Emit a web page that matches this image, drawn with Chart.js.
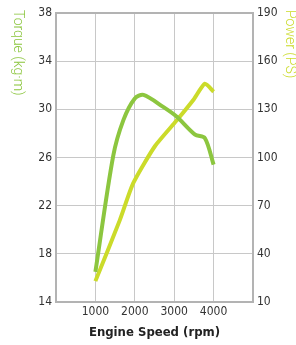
<!DOCTYPE html>
<html>
<head>
<meta charset="utf-8">
<script src="https://cdn.jsdelivr.net/npm/chart.js@4/dist/chart.umd.min.js"></script>
<style>
  html, body { margin: 0; padding: 0; background: #fff; }
  #wrap { width: 296px; height: 345px; position: relative; }
</style>
</head>
<body>
<div id="wrap"><canvas id="chart"></canvas></div>
<script>
// data
const torqueRpm = [1000, 1450, 1710, 2000, 2220, 2720, 3060, 3530, 3780, 4000];
const torqueValues = [16.5, 26.1, 29.1, 30.9, 31.2, 30.2, 29.4, 27.9, 27.6, 25.4];
const powerRpm = [1000, 1620, 1960, 2510, 3060, 3490, 3780, 4000];
const powerValues = [23, 61, 84, 107, 123, 136, 146, 141];
const rpmTicks = [1000, 2000, 3000, 4000];
const torqueTicks = [14, 18, 22, 26, 30, 34, 38];
const powerTicks = [10, 40, 70, 100, 130, 160, 190];

const torqueColor = '#8cc63f';
const powerColor = '#cbdb2a';
const tickFont = { family: '"Liberation Sans Narrow", "DejaVu Sans Condensed", sans-serif', size: 12 };

// frame round the plot area and the three axis titles
const extras = {
    id: 'extras',
    beforeDatasetsDraw(chart) {
        const a = chart.chartArea;
        const ctx = chart.ctx;
        ctx.save();
        ctx.strokeStyle = '#b3b3b3';
        ctx.lineWidth = 2;
        ctx.strokeRect(a.left, a.top, a.right - a.left, a.bottom - a.top);
        ctx.restore();
    },
    afterDraw(chart) {
        const ctx = chart.ctx;
        const a = chart.chartArea;
        ctx.save();
        ctx.font = '300 14px "Roboto", "Liberation Sans Narrow", sans-serif';
        ctx.textBaseline = 'middle';
        ctx.textAlign = 'left';

        ctx.save();
        ctx.translate(17, 10);
        ctx.rotate(Math.PI / 2);
        ctx.fillStyle = torqueColor;
        ctx.fillText('Torque (kg\u00b7m)', 0, 0);
        ctx.restore();

        ctx.save();
        ctx.translate(289, 10);
        ctx.rotate(Math.PI / 2);
        ctx.fillStyle = powerColor;
        ctx.fillText('Power (PS)', 0, 0);
        ctx.restore();

        ctx.font = 'bold 13px "Liberation Sans Narrow", "DejaVu Sans Condensed", sans-serif';
        ctx.fillStyle = '#222';
        ctx.textAlign = 'center';
        ctx.fillText('Engine Speed (rpm)', (a.left + a.right) / 2, 333);
        ctx.restore();
    }
};

new Chart(document.getElementById('chart'), {
    type: 'line',
    data: {
        datasets: [
            {
                label: 'Torque',
                data: torqueRpm.map((x, i) => ({ x: x, y: torqueValues[i] })),
                yAxisID: 'y',
                borderColor: torqueColor,
                borderWidth: 4,
                pointRadius: 0,
                tension: 0.3,
                borderCapStyle: 'butt'
            },
            {
                label: 'Power',
                data: powerRpm.map((x, i) => ({ x: x, y: powerValues[i] })),
                yAxisID: 'y1',
                borderColor: powerColor,
                borderWidth: 4,
                pointRadius: 0,
                tension: 0.2,
                borderCapStyle: 'butt'
            }
        ]
    },
    options: {
        responsive: true,
        maintainAspectRatio: false,
        animation: false,
        layout: { padding: { top: 13, left: 0, right: 0, bottom: 0 } },
        plugins: {
            legend: { display: false },
            tooltip: { enabled: false }
        },
        scales: {
            x: {
                type: 'linear',
                min: 0,
                max: 5000,
                afterFit(scale) { scale.height = 43; },
                afterBuildTicks(scale) {
                    scale.ticks = [0].concat(rpmTicks, [5000]).map(v => ({ value: v }));
                },
                ticks: {
                    color: '#333',
                    font: tickFont,
                    padding: 3,
                    maxRotation: 0,
                    autoSkip: false,
                    callback: v => rpmTicks.includes(v) ? String(v) : ''
                },
                grid: { color: '#c8c8c8', lineWidth: 1, drawTicks: false },
                border: { display: false }
            },
            y: {
                position: 'left',
                min: 14,
                max: 38,
                afterFit(scale) { scale.width = 56; },
                afterBuildTicks(scale) {
                    scale.ticks = torqueTicks.map(v => ({ value: v }));
                },
                ticks: { color: '#333', font: tickFont, padding: 4 },
                grid: { color: '#c8c8c8', lineWidth: 1, drawTicks: false },
                border: { display: false }
            },
            y1: {
                position: 'right',
                min: 10,
                max: 190,
                afterFit(scale) { scale.width = 43; },
                afterBuildTicks(scale) {
                    scale.ticks = powerTicks.map(v => ({ value: v }));
                },
                ticks: { color: '#333', font: tickFont, padding: 4 },
                grid: { display: false, drawTicks: false },
                border: { display: false }
            }
        }
    },
    plugins: [extras]
});
</script>
</body>
</html>
